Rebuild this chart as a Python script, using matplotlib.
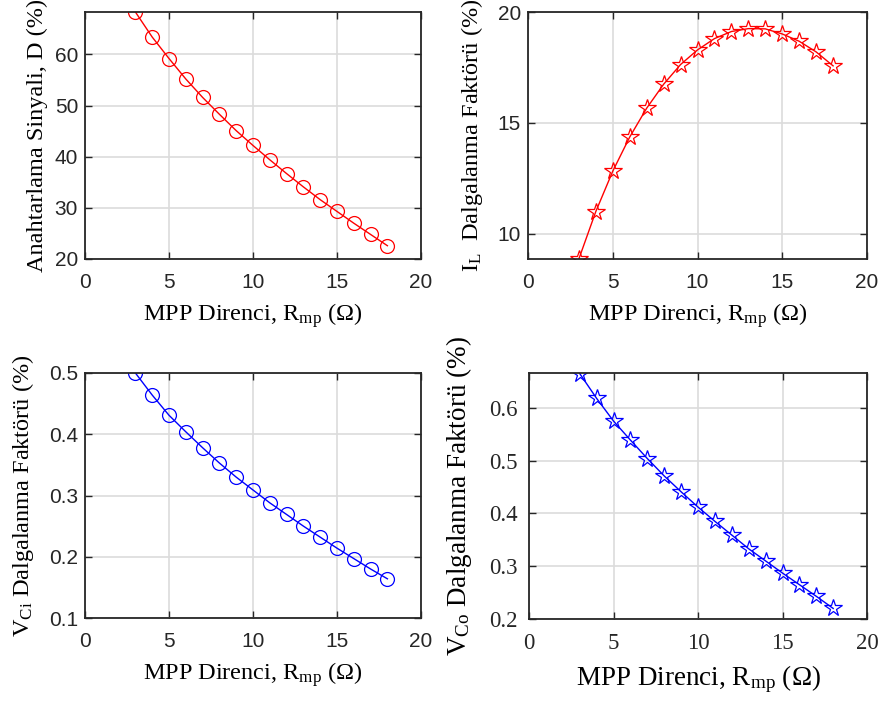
import matplotlib
matplotlib.use('Agg')
import matplotlib.pyplot as plt

# MPP resistance values (ohm)
r_mp = [3, 4, 5, 6, 7, 8, 9, 10, 11, 12, 13, 14, 15, 16, 17, 18]

# duty cycle D (%)
duty = [68.3, 63.4, 59.2, 55.2, 51.6, 48.3, 45.1, 42.2, 39.4, 36.7,
        34.1, 31.6, 29.3, 27.0, 24.8, 22.6]

# inductor current ripple (%)
il_ripple = [8.86, 11.0, 12.82, 14.36, 15.66, 16.74, 17.63, 18.29, 18.8, 19.12,
             19.25, 19.24, 19.01, 18.68, 18.2, 17.57]

# input capacitor voltage ripple (%)
vci_ripple = [0.5, 0.464, 0.431, 0.404, 0.378, 0.353, 0.330, 0.309, 0.288, 0.269,
              0.250, 0.232, 0.214, 0.197, 0.180, 0.164]

# output capacitor voltage ripple (%)
vco_ripple = [0.665, 0.618, 0.575, 0.539, 0.504, 0.471, 0.441, 0.412, 0.385, 0.359,
              0.333, 0.310, 0.287, 0.265, 0.243, 0.220]

W, H = 880, 706
fig = plt.figure(figsize=(W / 100, H / 100), dpi=100)

SERIF = 'Liberation Serif'
SANS = 'Liberation Sans'
XLABEL = r'MPP Direnci, $\mathregular{R_{mp}}$ (Ω)'


def make_axes(x0, y0, x1, y1):
    # pixel box -> figure fraction
    return fig.add_axes([x0 / W, 1 - y1 / H, (x1 - x0) / W, (y1 - y0) / H])


def style(ax, tick_font, tick_size, label_size, ypad=5):
    ax.set_xlim(0, 20)
    ax.set_xticks([0, 5, 10, 15, 20])
    ax.grid(True, color='#dcdcdc', linewidth=1.2)
    ax.set_axisbelow(True)
    ax.tick_params(direction='in', top=True, right=True, length=5, width=1.0,
                   colors='#262626', labelsize=tick_size)
    ax.tick_params(axis='x', pad=10)
    ax.tick_params(axis='y', pad=ypad)
    for lab in ax.get_xticklabels() + ax.get_yticklabels():
        lab.set_fontfamily(tick_font)
    for sp in ax.spines.values():
        sp.set_linewidth(1.3)
        sp.set_color('#262626')
    ax.set_xlabel(XLABEL, fontfamily=SERIF, fontsize=label_size, labelpad=7)


# top-left: duty cycle
ax1 = make_axes(85, 12, 421, 259)
ax1.plot(r_mp, duty, color='red', linewidth=1.0, marker='o', markersize=10,
         markerfacecolor='none', markeredgewidth=0.9)
ax1.set_ylim(20, 68.3)
ax1.set_yticks([20, 30, 40, 50, 60])
style(ax1, SANS, 15, 17.5)
ax1.set_ylabel('Anahtarlama Sinyali, D (%)', fontfamily=SERIF, fontsize=17.5, labelpad=5)

# top-right: inductor ripple
ax2 = make_axes(528, 12, 867, 259)
ax2.plot(r_mp, il_ripple, color='red', linewidth=1.0, marker='*', markersize=13,
         markerfacecolor='none', markeredgewidth=0.9)
ax2.set_ylim(8.86, 20)
ax2.set_yticks([10, 15, 20])
style(ax2, SANS, 15, 17.5)
ax2.set_ylabel(r'$\mathregular{I_L}$  Dalgalanma Faktörü (%)', fontfamily=SERIF,
               fontsize=17.5, labelpad=9)

# bottom-left: input capacitor ripple
ax3 = make_axes(85, 373, 421, 618)
ax3.plot(r_mp, vci_ripple, color='blue', linewidth=1.0, marker='o', markersize=10,
         markerfacecolor='none', markeredgewidth=0.9)
ax3.set_ylim(0.1, 0.5)
ax3.set_yticks([0.1, 0.2, 0.3, 0.4, 0.5])
style(ax3, SANS, 15, 17.5)
ax3.set_ylabel(r'$\mathregular{V_{Ci}}$ Dalgalanma Faktörü (%)', fontfamily=SERIF,
               fontsize=17.5, labelpad=9)

# bottom-right: output capacitor ripple
ax4 = make_axes(529, 373, 867, 619)
ax4.plot(r_mp, vco_ripple, color='blue', linewidth=1.0, marker='*', markersize=13,
         markerfacecolor='none', markeredgewidth=0.9)
ax4.set_ylim(0.2, 0.666)
ax4.set_yticks([0.2, 0.3, 0.4, 0.5, 0.6])
style(ax4, SERIF, 16.5, 19.5, ypad=8)
ax4.set_ylabel(r'$\mathregular{V_{Co}}$ Dalgalanma Faktörü (%)', fontfamily=SERIF,
               fontsize=19.5, labelpad=11)

fig.savefig('out.png', dpi=100)
